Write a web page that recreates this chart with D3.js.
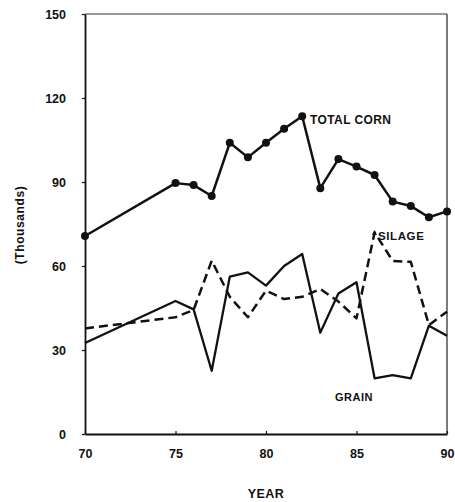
<!DOCTYPE html>
<html>
<head>
<meta charset="utf-8">
<script src="https://cdn.jsdelivr.net/npm/d3@7"></script>
<style>
  html, body { margin: 0; padding: 0; background: #fff; }
  svg text { font-family: "Liberation Sans", Arial, Helvetica, sans-serif; font-weight: bold; fill: #111; }
</style>
</head>
<body>
<svg id="chart" width="455" height="502"></svg>
<script>
// Corn acreage by crop use, thousands of acres
const years   = [70, 75, 76, 77, 78, 79, 80, 81, 82, 83, 84, 85, 86, 87, 88, 89, 90];
const total   = [70.7, 89.6, 88.9, 85.0, 104.0, 98.8, 104.0, 109.0, 113.5, 87.8, 98.2, 95.5, 92.5, 83.0, 81.4, 77.4, 79.5];
const grain   = [32.5, 47.5, 44.5, 22.6, 56.2, 57.7, 53.0, 60.0, 64.3, 36.2, 50.2, 54.2, 19.9, 21.0, 19.9, 38.7, 35.1];
const silage  = [37.7, 41.7, 44.3, 61.9, 49.0, 41.7, 51.2, 48.2, 49.0, 51.8, 47.3, 41.3, 72.0, 61.8, 61.5, 38.9, 43.7];
const xTicks  = [70, 75, 80, 85, 90];
const yTicks  = [0, 30, 60, 90, 120, 150];

const svg = d3.select("#chart");
const plotL = 85, plotR = 447, plotT = 14, plotB = 434;

const x = d3.scaleLinear().domain([70, 90]).range([plotL, plotR]);
const y = d3.scaleLinear().domain([0, 150]).range([plotB, plotT]);

// frame: thin top and right edges
svg.append("line").attr("x1", plotL).attr("x2", plotR).attr("y1", plotT).attr("y2", plotT)
  .attr("stroke", "#333").attr("stroke-width", 1);
svg.append("line").attr("x1", plotR).attr("x2", plotR).attr("y1", plotT).attr("y2", plotB)
  .attr("stroke", "#222").attr("stroke-width", 1.2);

// y axis, ticks outward
const yAxis = svg.append("g").attr("transform", `translate(${plotL},0)`)
  .call(d3.axisLeft(y).tickValues(yTicks).tickSize(3).tickPadding(16).tickSizeOuter(0));
yAxis.select(".domain").attr("stroke", "#111").attr("stroke-width", 1.8);
yAxis.selectAll(".tick line").attr("stroke", "#111").attr("stroke-width", 1.2);
yAxis.selectAll(".tick text").attr("font-size", 12.5).attr("fill", "#111")
  .attr("font-family", "Liberation Sans, Arial, sans-serif").attr("font-weight", "bold");

// x axis, ticks inward
const xAxis = svg.append("g").attr("transform", `translate(0,${plotB})`)
  .call(d3.axisBottom(x).tickValues(xTicks).tickSize(-3).tickPadding(15).tickSizeOuter(0));
xAxis.select(".domain").attr("stroke", "#111").attr("stroke-width", 1.8);
xAxis.selectAll(".tick line").attr("stroke", "#111").attr("stroke-width", 1.2);
xAxis.selectAll(".tick text").attr("font-size", 12.5).attr("fill", "#111")
  .attr("font-family", "Liberation Sans, Arial, sans-serif").attr("font-weight", "bold");

const line = vals => d3.line().x((d, i) => x(years[i])).y(d => y(d))(vals);

// silage (dashed)
svg.append("path").attr("d", line(silage)).attr("fill", "none")
  .attr("stroke", "#111").attr("stroke-width", 2.5).attr("stroke-dasharray", "9,5")
  .attr("stroke-linejoin", "round");

// grain (solid)
svg.append("path").attr("d", line(grain)).attr("fill", "none")
  .attr("stroke", "#111").attr("stroke-width", 2.3).attr("stroke-linejoin", "round");

// total corn with markers
svg.append("path").attr("d", line(total)).attr("fill", "none")
  .attr("stroke", "#111").attr("stroke-width", 2.5).attr("stroke-linejoin", "round");
svg.append("g").selectAll("circle").data(total).join("circle")
  .attr("cx", (d, i) => x(years[i])).attr("cy", d => y(d)).attr("r", 4)
  .attr("fill", "#111");

// series labels
svg.append("text").attr("x", 310).attr("y", 124).attr("font-size", 12)
  .attr("letter-spacing", 0.4).text("TOTAL CORN");
svg.append("text").attr("x", 378).attr("y", 240).attr("font-size", 11.5)
  .attr("letter-spacing", 0.6).text("SILAGE");
svg.append("path").attr("d", "M372,235 L374.5,230 L377,235 Z").attr("fill", "#111");
svg.append("text").attr("x", 335).attr("y", 401).attr("font-size", 11)
  .attr("letter-spacing", 0.5).text("GRAIN");

// axis titles
svg.append("text").attr("x", 266).attr("y", 498).attr("text-anchor", "middle")
  .attr("font-size", 12.5).attr("letter-spacing", 0.5).text("YEAR");
svg.append("text").attr("transform", "translate(24,225) rotate(-90)")
  .attr("text-anchor", "middle").attr("font-size", 12).attr("letter-spacing", 0.6)
  .text("(Thousands)");
</script>
</body>
</html>
